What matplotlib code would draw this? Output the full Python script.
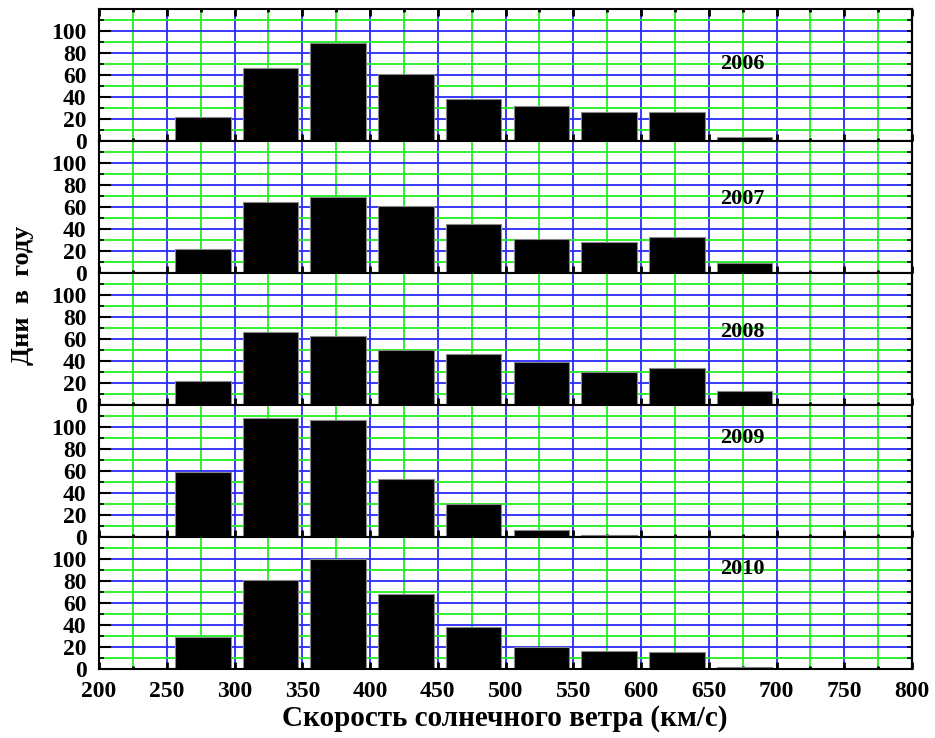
import matplotlib
matplotlib.use('Agg')
import matplotlib.pyplot as plt
from matplotlib.ticker import MultipleLocator
import numpy as np

# Распределение скорости солнечного ветра по годам (дни в году)
bins = [250, 300, 350, 400, 450, 500, 550, 600, 650]
years = ['2006', '2007', '2008', '2009', '2010']
days_2006 = [22, 66, 89, 61, 38, 32, 26, 26, 4]
days_2007 = [22, 65, 69, 61, 45, 31, 28, 33, 9]
days_2008 = [22, 66, 63, 50, 46, 39, 30, 34, 13]
days_2009 = [59, 108, 106, 53, 30, 6, 2, 0, 0]
days_2010 = [29, 81, 100, 68, 38, 20, 16, 15, 2]
all_days = [days_2006, days_2007, days_2008, days_2009, days_2010]
label_y = [70, 67, 66, 90, 91]

plt.rcParams['font.family'] = ['Liberation Serif', 'DejaVu Serif']
plt.rcParams['font.weight'] = 'bold'

fig, axes = plt.subplots(5, 1, sharex=True, figsize=(9.35, 7.38), dpi=100)
fig.subplots_adjust(left=0.106, right=0.9754, top=0.9878, bottom=0.0935, hspace=0)

blue = '#2a2aff'
green = '#22ee22'

for i, ax in enumerate(axes):
    ax.set_xlim(200, 800)
    ax.set_ylim(0, 120)
    ax.set_axisbelow(True)

    # сетка
    for x in np.arange(250, 800, 50):
        ax.axvline(x, color=blue, lw=1.3, zorder=0)
    for x in np.arange(225, 800, 50):
        ax.axvline(x, color=green, lw=1.3, zorder=0)
    for y in range(20, 120, 20):
        ax.axhline(y, color=blue, lw=1.3, zorder=0)
    for y in range(10, 120, 20):
        ax.axhline(y, color=green, lw=1.3, zorder=0)

    # столбцы
    left = [b + 6 for b in bins]
    ax.bar(left, all_days[i], width=41, align='edge', color='black',
           edgecolor='#888888', linewidth=0.8, zorder=2)

    ax.text(675, label_y[i], years[i], ha='center', va='center',
            fontsize=16, fontweight='bold', zorder=3)

    ax.set_yticks([0, 20, 40, 60, 80, 100])
    ax.yaxis.set_minor_locator(MultipleLocator(10))
    ax.xaxis.set_major_locator(MultipleLocator(50))
    ax.xaxis.set_minor_locator(MultipleLocator(25))

    ax.tick_params(axis='y', which='major', direction='in', length=8.5, width=1.5,
                   labelsize=17, pad=9, right=False)
    ax.tick_params(axis='y', which='minor', direction='in', length=3.6, width=1.2,
                   right=False)
    ax.tick_params(axis='x', which='major', direction='in', length=5, width=2,
                   labelsize=17, pad=9, top=(i == 0))
    ax.tick_params(axis='x', which='minor', direction='in', length=2.5, width=2,
                   top=(i == 0))

    # короткие засечки справа
    sec = ax.secondary_yaxis('right')
    sec.set_yticks(range(0, 120, 10))
    sec.tick_params(direction='in', length=3.6, width=1.2, labelright=False)
    sec.spines['right'].set_linewidth(1.5)

    for s in ax.spines.values():
        s.set_linewidth(1.5)
        s.set_zorder(4)

fig.text(0.024, 0.6, 'Дни  в  году', rotation=90, ha='center', va='center',
         fontsize=19, fontweight='bold')
fig.text(0.54, 0.027, 'Скорость солнечного ветра (км/с)', ha='center', va='center',
         fontsize=21, fontweight='bold')

fig.savefig('out.png', dpi=100)
